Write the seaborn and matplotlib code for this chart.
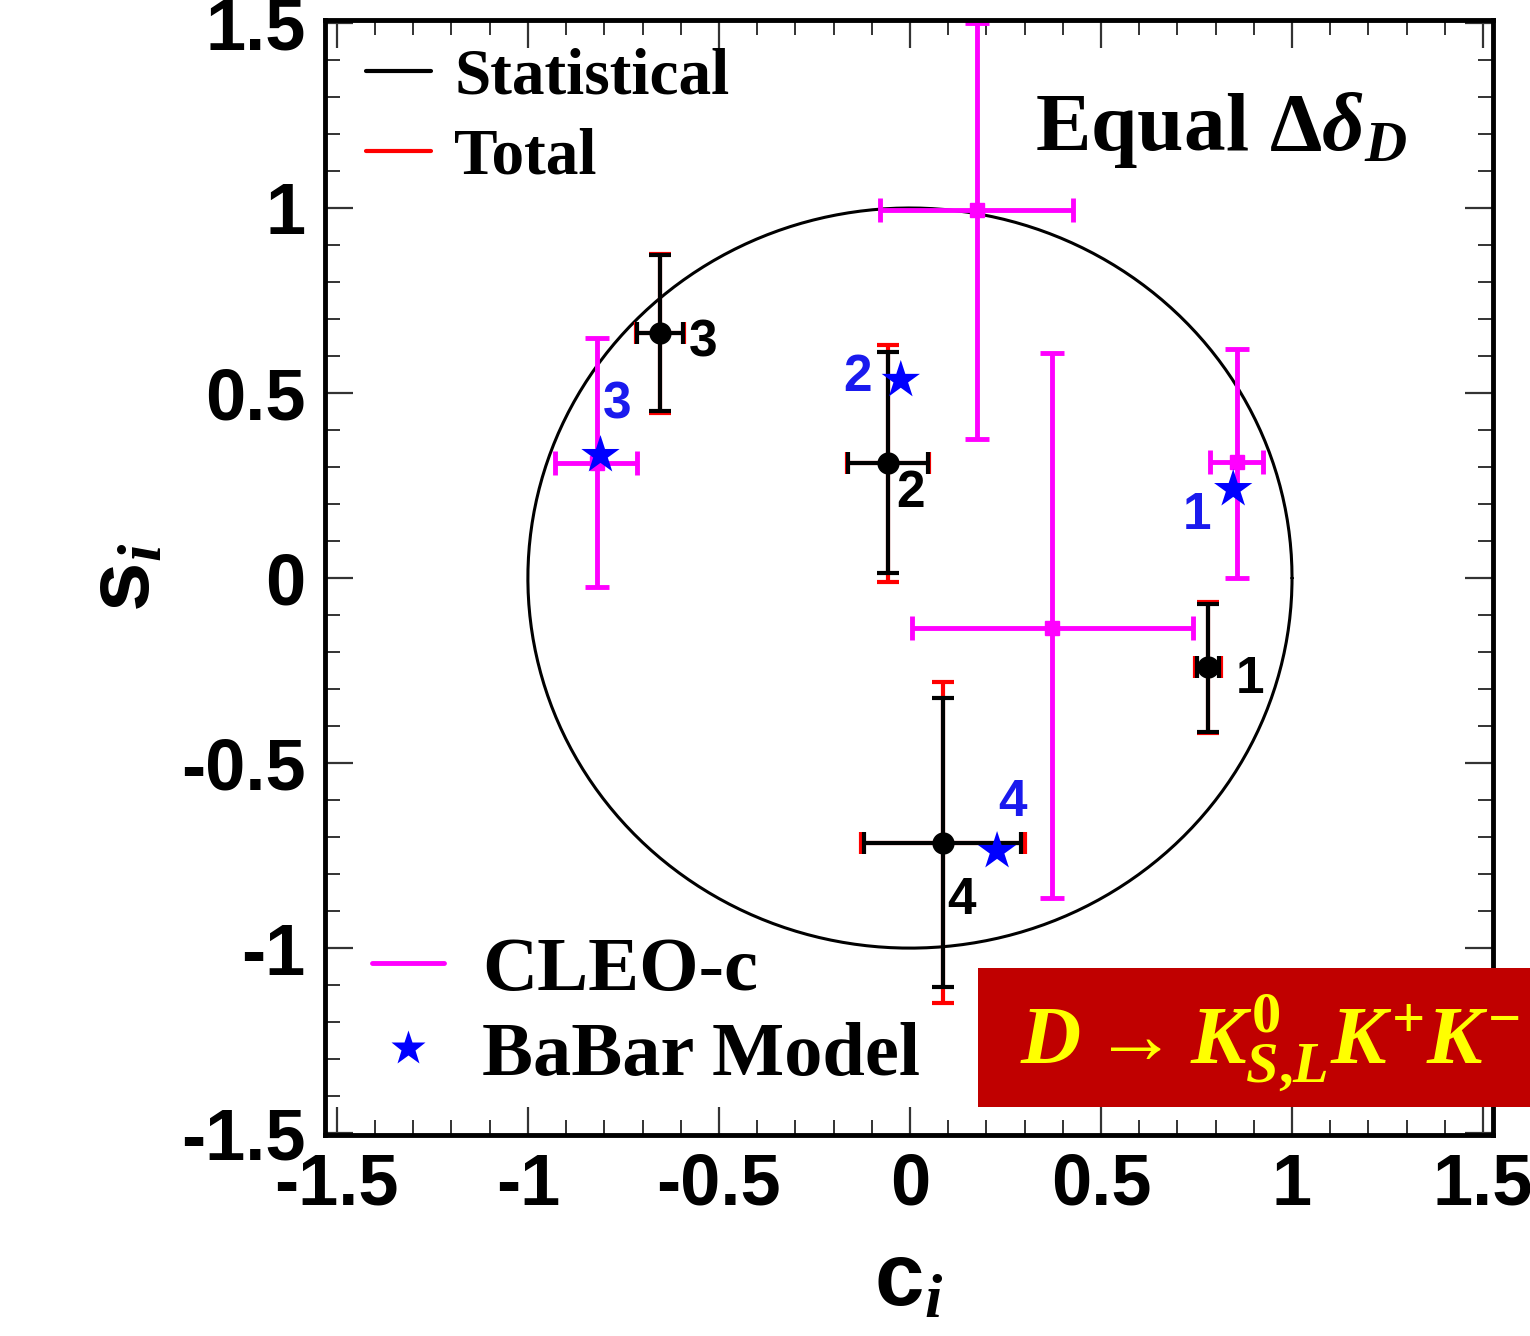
import matplotlib
matplotlib.use("Agg")
import matplotlib.pyplot as plt
from matplotlib.lines import Line2D
from matplotlib.patches import Rectangle
from matplotlib.ticker import FixedLocator, MultipleLocator
import numpy as np
import pandas as pd
import seaborn as sns

# bin labels
bins = ["1", "2", "3", "4"]

# statistical / total measurement (c_i, s_i)
stat_c = [0.78, -0.058, -0.654, 0.086]
stat_s = [-0.24, 0.311, 0.662, -0.716]
stat_cerr = [0.03, 0.105, 0.06, 0.205]
stat_serr_lo = [0.175, 0.298, 0.21, 0.389]
stat_serr_hi = [0.17, 0.30, 0.21, 0.392]
tot_cerr = [0.033, 0.108, 0.062, 0.215]
tot_serr_lo = [0.18, 0.322, 0.215, 0.433]
tot_serr_hi = [0.175, 0.319, 0.215, 0.435]

# CLEO-c
cleo_c = [0.856, 0.175, -0.82, 0.372]
cleo_s = [0.314, 0.995, 0.311, -0.135]
cleo_cerr_lo = [0.07, 0.254, 0.109, 0.367]
cleo_cerr_hi = [0.068, 0.252, 0.105, 0.369]
cleo_serr_lo = [0.314, 0.62, 0.335, 0.73]
cleo_serr_hi = [0.306, 0.505, 0.338, 0.743]

# BaBar model prediction
babar_c = [0.846, -0.024, -0.81, 0.228]
babar_s = [0.24, 0.535, 0.332, -0.738]

tick_vals = [-1.5, -1, -0.5, 0, 0.5, 1, 1.5]
tick_labels = ["-1.5", "-1", "-0.5", "0", "0.5", "1", "1.5"]


def main():
    sns.set_style("ticks")
    plt.rcParams['font.family'] = ['Liberation Sans', 'DejaVu Sans']
    plt.rcParams['font.weight'] = 'bold'
    plt.rcParams['axes.unicode_minus'] = False
    plt.rcParams['text.color'] = 'black'
    plt.rcParams['axes.labelcolor'] = 'black'
    plt.rcParams['xtick.color'] = 'black'
    plt.rcParams['ytick.color'] = 'black'
    plt.rcParams['mathtext.fontset'] = 'custom'
    plt.rcParams['mathtext.rm'] = 'Liberation Serif:bold'
    plt.rcParams['mathtext.bf'] = 'Liberation Serif:bold'
    plt.rcParams['mathtext.it'] = 'Liberation Serif:italic:bold'
    plt.rcParams['mathtext.sf'] = 'Liberation Sans:bold'

    W, H = 1530, 1336
    fig = plt.figure(figsize=(W / 100, H / 100), dpi=100)
    ax = fig.add_axes([325 / W, 201 / H, (1493 - 325) / W, (1316 - 201) / H])

    # unit circle
    t = np.linspace(0, 2 * np.pi, 400)
    ax.plot(np.cos(t), np.sin(t), color='black', lw=2.2, zorder=1)

    # CLEO-c
    ax.errorbar(cleo_c, cleo_s, xerr=[cleo_cerr_lo, cleo_cerr_hi],
                yerr=[cleo_serr_lo, cleo_serr_hi], fmt='s', color='#ff00ff',
                ms=10, lw=3.5, capsize=8.5, capthick=3.5, zorder=2)

    # total then statistical
    ax.errorbar(stat_c, stat_s, xerr=tot_cerr, yerr=[tot_serr_lo, tot_serr_hi],
                fmt='none', ecolor='red', lw=3, capsize=8, capthick=3, zorder=3)
    ax.errorbar(stat_c, stat_s, xerr=stat_cerr, yerr=[stat_serr_lo, stat_serr_hi],
                fmt='o', color='black', ms=15, lw=3, capsize=8, capthick=3, zorder=4)

    # BaBar model stars
    df = pd.DataFrame({'c': babar_c, 's': babar_s, 'bin': bins})
    sns.scatterplot(data=df, x='c', y='s', marker='*', s=29 ** 2, color='blue',
                    edgecolor='none', ax=ax, zorder=5, legend=False)

    # bin numbers
    blk_off = [(42, -13), (23, -31), (43, -10), (19, -57)]
    blu_off = [(-36, -26), (-43, 3), (17, 50), (15, 49)]
    for i, b in enumerate(bins):
        ax.annotate(b, (stat_c[i], stat_s[i]), xytext=blk_off[i], textcoords='offset pixels',
                    ha='center', va='center', fontsize=37, fontweight='bold', color='black', zorder=6)
        ax.annotate(b, (babar_c[i], babar_s[i]), xytext=blu_off[i], textcoords='offset pixels',
                    ha='center', va='center', fontsize=37, fontweight='bold', color='#1a1aee', zorder=6)

    ax.set_xlim(-1.531, 1.526)
    ax.set_ylim(-1.505, 1.508)
    ax.xaxis.set_major_locator(FixedLocator(tick_vals))
    ax.yaxis.set_major_locator(FixedLocator(tick_vals))
    ax.set_xticklabels(tick_labels)
    ax.set_yticklabels(tick_labels)
    ax.xaxis.set_minor_locator(MultipleLocator(0.1))
    ax.yaxis.set_minor_locator(MultipleLocator(0.1))
    ax.tick_params(which='both', direction='in', top=True, right=True, color='#333333')
    ax.tick_params(which='major', length=20, width=1.6, labelsize=52, labelcolor='black')
    ax.tick_params(which='minor', length=11, width=1.4)
    ax.tick_params(axis='x', pad=12)
    ax.tick_params(axis='y', pad=14)
    for sp in ax.spines.values():
        sp.set_linewidth(3.5)
        sp.set_color('black')

    ax.set_xlabel(r'$\mathsf{c}_{\mathit{i}}$', fontsize=64)
    ax.set_ylabel(r'$\mathsf{s}_{\mathit{i}}$', fontsize=64)
    ax.xaxis.set_label_coords(0.5, -0.095)
    ax.yaxis.set_label_coords(-0.134, 0.5)

    # legends
    serif = {'family': 'Liberation Serif', 'weight': 'bold', 'size': 47}
    h1 = [Line2D([], [], color='black', lw=3), Line2D([], [], color='red', lw=3)]
    leg1 = ax.legend(h1, ['Statistical', 'Total'], loc='upper left', bbox_to_anchor=(0.035, 0.975),
                     frameon=False, prop=serif, handlelength=1.0, handletextpad=0.35,
                     labelspacing=0.3, borderpad=0, borderaxespad=0)
    ax.add_artist(leg1)
    serif2 = dict(serif, size=55)
    h2 = [Line2D([], [], color='#ff00ff', lw=3.5),
          Line2D([], [], color='blue', marker='*', ls='none', ms=26, markeredgecolor='none')]
    ax.legend(h2, ['CLEO-c', 'BaBar Model'], loc='upper left', bbox_to_anchor=(0.04, 0.178),
              frameon=False, prop=serif2, handlelength=0.95, handletextpad=0.5,
              labelspacing=0.2, borderpad=0, borderaxespad=0)

    ax.text((1035 - 325) / 1168, 1 - (150 - 20) / 1115, r'Equal $\Delta\delta_D$',
            transform=ax.transAxes, fontsize=60, fontfamily='Liberation Serif',
            fontweight='bold', ha='left', va='baseline', zorder=7)

    # decay box at the lower right
    fig.patches.append(Rectangle((978 / W, 1 - 1107 / H), 1.0, (1107 - 968) / H,
                                 transform=fig.transFigure, facecolor='#c00000',
                                 edgecolor='none', zorder=8))
    fig.text(1020 / W, 1 - 1065 / H, r'$D\rightarrow K^{0}_{S{,}L}K^{+}K^{-}$',
             fontsize=60, color='#ffff00', ha='left', va='baseline', zorder=9)

    fig.savefig('out.png', dpi=100)


if __name__ == "__main__":
    main()
